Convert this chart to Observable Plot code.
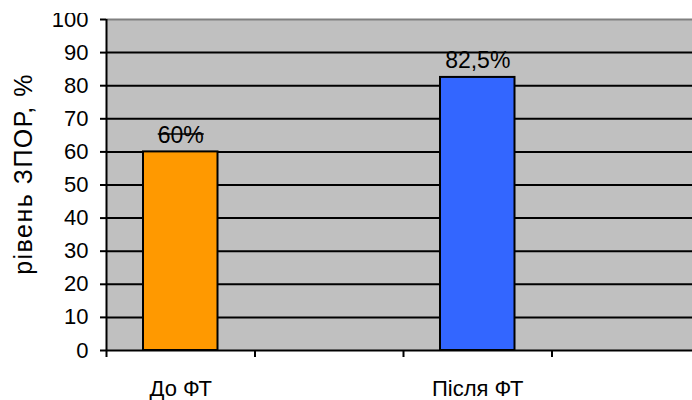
<!DOCTYPE html>
<html>
<head>
<meta charset="utf-8">
<script src="https://cdn.jsdelivr.net/npm/d3@7"></script>
<script src="https://cdn.jsdelivr.net/npm/@observablehq/plot@0.6"></script>
<style>
  body { margin: 0; background: #fff; }
  #chart { width: 692px; height: 387px; margin-top: 13px; overflow: hidden; }
  #chart svg { display: block; margin-top: -13px; max-width: none !important; }
</style>
</head>
<body>
<div id="chart"></div>
<script>
// Category slots along the x axis (empty slots have no bar)
const categories = ["До ФТ", "", "Після ФТ", ""];
// ЗПОР level per category, %
const values = [60, null, 82.5, null];
const barColors = ["#ff9900", null, "#3366ff", null];
const yTicks = [0, 10, 20, 30, 40, 50, 60, 70, 80, 90, 100];
const yLabel = "рівень ЗПОР, %";

const rows = categories.map((name, i) => ({
  i, name, value: values[i], color: barColors[i]
}));
const bars = rows.filter(d => d.value != null);
const fmt = v => String(v).replace(".", ",") + "%";

const font = "'Liberation Sans', Arial, sans-serif";

const chart = Plot.plot({
  width: 700,
  height: 400,
  marginLeft: 106,
  marginRight: 0,
  marginTop: 19,
  marginBottom: 50,
  style: { fontFamily: font, fontSize: "22px", color: "#000", background: "#fff" },
  x: { domain: [0, categories.length], axis: null },
  y: { domain: [0, 100], axis: null },
  marks: [
    Plot.frame({ fill: "#c0c0c0", stroke: null }),
    // value labels sit under the grid lines
    Plot.text(bars, {
      x: d => d.i + 0.5, y: "value", text: d => fmt(d.value),
      lineAnchor: "bottom", dy: -9, fontSize: 23, fill: "#000"
    }),
    Plot.ruleY(yTicks.filter(t => t > 0 && t < 100), { stroke: "#000", strokeWidth: 2 }),
    Plot.ruleY([100], { stroke: "#808080", strokeWidth: 2 }),
    Plot.rectY(bars, {
      x1: "i", x2: d => d.i + 1, y: "value",
      insetLeft: 37, insetRight: 37,
      fill: d => d.color, stroke: "#000", strokeWidth: 2
    }),
    Plot.ruleX([0], { stroke: "#000", strokeWidth: 2 }),
    Plot.ruleY([0], { stroke: "#000", strokeWidth: 2 }),
    Plot.axisY({ ticks: yTicks, tickSize: 6, tickPadding: 12, strokeWidth: 2, stroke: "#000", label: null, fontSize: 22 }),
    Plot.axisX({ ticks: d3.range(categories.length + 1), tickSize: 7, strokeWidth: 2, stroke: "#000", tickFormat: () => "", label: null }),
    // category names under the axis
    Plot.text(rows.filter(d => d.name), {
      x: d => d.i + 0.5, y: 0, text: "name",
      lineAnchor: "bottom", dy: 45, fontSize: 22, fill: "#000"
    }),
    Plot.text([yLabel], {
      frameAnchor: "left", rotate: -90, dx: -83, dy: -11,
      textAnchor: "middle", lineAnchor: "middle", fontSize: 25, fill: "#000"
    })
  ]
});

document.getElementById("chart").appendChild(chart);

const texts = d3.select(chart).selectAll("text");

// slightly looser spacing on the y title
texts.filter(function () { return this.textContent === yLabel; })
  .style("letter-spacing", "1.5px");

// the first value label is struck through: a line across its measured box
const struck = fmt(values[0]);
texts.filter(function () { return this.textContent === struck; })
  .each(function () {
    const b = this.getBBox();
    const y = b.y + b.height * 0.5 - 1;
    d3.select(this.parentNode).append("line")
      .attr("transform", this.getAttribute("transform"))
      .attr("x1", b.x).attr("x2", b.x + b.width)
      .attr("y1", y).attr("y2", y)
      .attr("stroke", "#000").attr("stroke-width", 1.5);
  });
</script>
</body>
</html>
